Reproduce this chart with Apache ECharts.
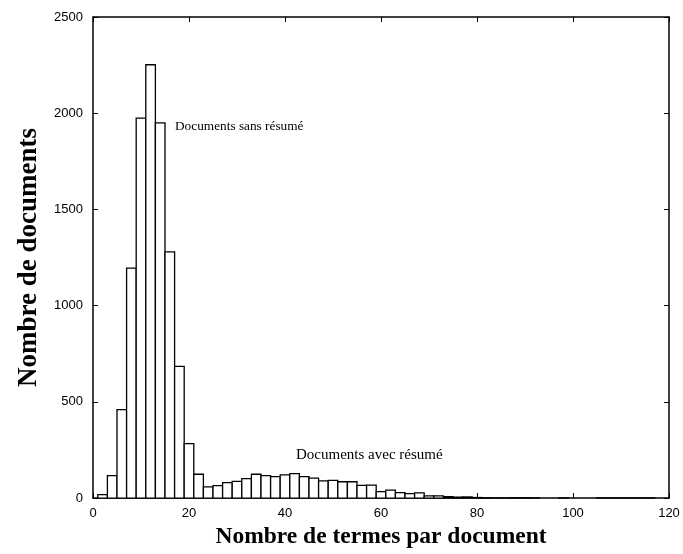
<!DOCTYPE html>
<html>
<head>
<meta charset="utf-8">
<script src="https://cdn.jsdelivr.net/npm/echarts@6/dist/echarts.min.js"></script>
<style>
  html, body { margin: 0; padding: 0; background: #fff; }
  #chart { width: 683px; height: 554px; }
</style>
</head>
<body>
<div id="chart"></div>
<script>
// Histogram of term counts per document (bins of width 2, centred on even values)
const binWidth = 2;
const binCenters = [
  2, 4, 6, 8, 10, 12, 14, 16, 18, 20,
  22, 24, 26, 28, 30, 32, 34, 36, 38, 40,
  42, 44, 46, 48, 50, 52, 54, 56, 58, 60,
  62, 64, 66, 68, 70, 72, 74, 76, 78, 80,
  82, 84, 86, 88, 90, 92, 94, 96, 98, 100,
  102, 104, 106, 108, 110, 112, 114, 116, 118
];
const docCounts = [
  18, 117, 460, 1195, 1975, 2252, 1950, 1280, 684, 283,
  124, 58, 65, 80, 87, 101, 124, 117, 112, 121,
  127, 112, 104, 90, 92, 85, 85, 66, 67, 34,
  41, 28, 23, 27, 12, 12, 7, 5, 6, 3,
  2, 1, 1, 2, 2, 1, 0, 0, 1, 0,
  0, 0, 1, 1, 1, 1, 1, 1, 0
];
const xTicks = [0, 20, 40, 60, 80, 100, 120];
const yTicks = [0, 500, 1000, 1500, 2000, 2500];

const xLabel = 'Nombre de termes par document';
const yLabel = 'Nombre de documents';
const noteShort = 'Documents sans résumé';
const noteLong = 'Documents avec résumé';

const serif = '"Liberation Serif", "Times New Roman", serif';
const sans = '"Liberation Sans Narrow", "Liberation Sans", Arial, sans-serif';

const chart = echarts.init(document.getElementById('chart'), null, { renderer: 'canvas' });

const tickStyle = { show: true, inside: true, length: 5, lineStyle: { color: '#000', width: 1 } };
const lineStyle = { show: true, onZero: false, lineStyle: { color: '#000', width: 1.5 } };
const plain = v => String(v);

chart.setOption({
  animation: false,
  backgroundColor: '#fff',
  grid: { left: 93, right: 14, top: 17, bottom: 55, containLabel: false },
  xAxis: [
    {
      type: 'value', min: xTicks[0], max: xTicks[xTicks.length - 1],
      interval: xTicks[1] - xTicks[0],
      axisLine: lineStyle, axisTick: tickStyle, splitLine: { show: false },
      axisLabel: { color: '#000', fontFamily: sans, fontSize: 13, margin: 9, formatter: plain },
      name: xLabel, nameLocation: 'middle', nameGap: 23,
      nameTextStyle: { color: '#000', fontFamily: serif, fontWeight: 'bold', fontSize: 23.5 }
    },
    {
      type: 'value', position: 'top', min: xTicks[0], max: xTicks[xTicks.length - 1],
      interval: xTicks[1] - xTicks[0],
      axisLine: lineStyle, axisTick: tickStyle, axisLabel: { show: false }, splitLine: { show: false }
    }
  ],
  yAxis: [
    {
      type: 'value', min: yTicks[0], max: yTicks[yTicks.length - 1],
      interval: yTicks[1] - yTicks[0],
      axisLine: lineStyle, axisTick: tickStyle, splitLine: { show: false },
      axisLabel: { color: '#000', fontFamily: sans, fontSize: 13, margin: 10, formatter: plain },
      name: yLabel, nameLocation: 'middle', nameGap: 50,
      nameTextStyle: { color: '#000', fontFamily: serif, fontWeight: 'bold', fontSize: 27 }
    },
    {
      type: 'value', position: 'right', min: yTicks[0], max: yTicks[yTicks.length - 1],
      interval: yTicks[1] - yTicks[0],
      axisLine: lineStyle, axisTick: tickStyle, axisLabel: { show: false }, splitLine: { show: false }
    }
  ],
  series: [{
    type: 'custom',
    xAxisIndex: 0, yAxisIndex: 0,
    data: binCenters.map((c, i) => [c, docCounts[i]]),
    renderItem: function (params, api) {
      const c = api.value(0), v = api.value(1);
      if (!v) return null;
      const p0 = api.coord([c - binWidth / 2, 0]);
      const p1 = api.coord([c + binWidth / 2, v]);
      return {
        type: 'rect',
        shape: { x: p0[0], y: p1[1], width: p1[0] - p0[0], height: p0[1] - p1[1] },
        style: { fill: '#fff', stroke: '#000', lineWidth: 1.3 }
      };
    }
  }],
  graphic: [
    { type: 'text', left: 175, top: 120,
      style: { text: noteShort, font: '13.3px ' + serif, fill: '#000' } },
    { type: 'text', left: 296, top: 448,
      style: { text: noteLong, font: '15px ' + serif, fill: '#000' } }
  ]
});
</script>
</body>
</html>
